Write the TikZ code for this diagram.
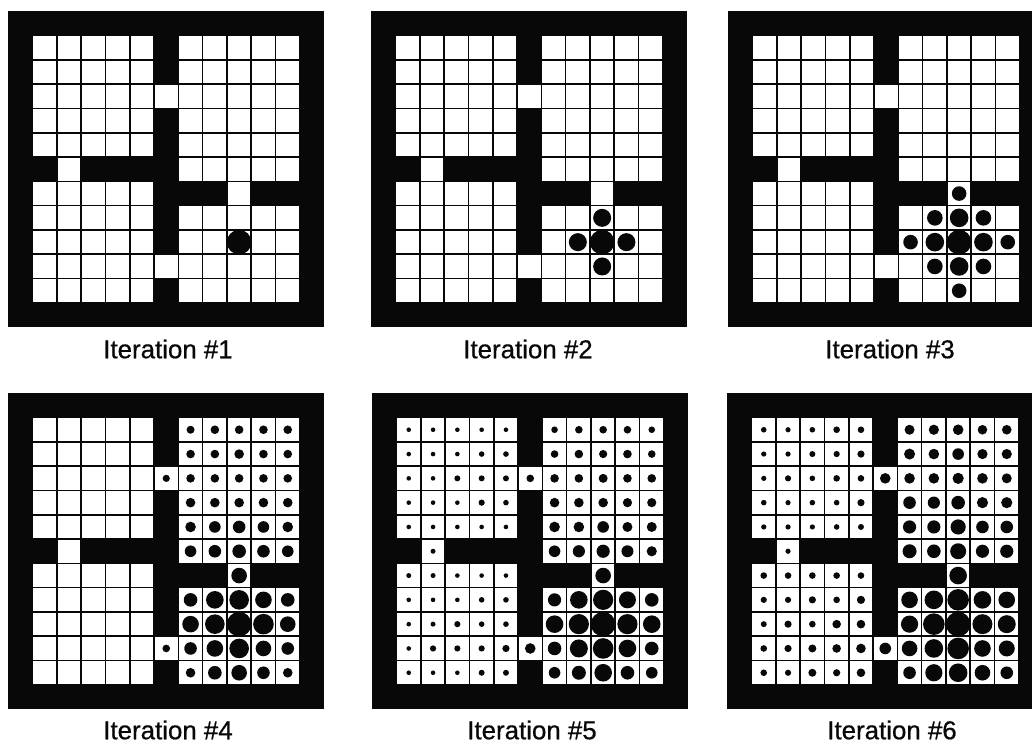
\documentclass[tikz,border=0pt]{standalone}
\usepackage{fontspec}
\setmainfont{Liberation Sans}
\newfontfamily\capfont[RawFeature={embolden=0.6}]{Liberation Sans}
\usepackage{xcolor}
\definecolor{roomWall}{RGB}{8,8,8}
\definecolor{roomCell}{RGB}{255,255,255}

% one panel: #1,#2 top left corner, #3 rows of dot radii (row/{11 values})
\newcommand{\roompanel}[3]{
  \begin{scope}[shift={(#1,#2)}]
    \fill[roomWall] (0,0) rectangle (316,316);
    \foreach \cmin/\cmax/\rmin/\rmax in {1/5/1/5,7/11/1/6,1/5/7/11,7/11/8/11,6/6/3/3,6/6/10/10,2/2/6/6,9/9/7/7}
      \foreach \cl in {\cmin,...,\cmax}
        \foreach \rw in {\rmin,...,\rmax}
          \fill[cell] ({\cl*24.3+1.0},{\rw*24.3+1.0}) rectangle ++(22.7,22.7);
    \foreach \rw/\rowvals in {#3}{
      \foreach \sz [count=\cl] in \rowvals {
        \ifdim\sz pt>0pt
          \fill[blob] ({(\cl+0.5)*24.3+0.3},{(\rw+0.5)*24.3+0.3}) circle (\sz+0.3);
        \fi
      }
    }
  \end{scope}
}

\begin{document}
\begin{tikzpicture}[
    x=0.75pt, y=-0.75pt,
    cell/.style={roomCell},
    blob/.style={roomWall},
    lbl/.style={font=\capfont\fontsize{19.4}{21}\selectfont, text=roomWall, inner sep=0pt}
  ]
  \fill[white] (0,0) rectangle (1032,743);
  \clip (0,0) rectangle (1032,743);

  % top row
  \roompanel{8}{11}{9/{0,0,0,0,0,0,0,0,12,0,0}}
  \roompanel{371}{11}{
    8/{0,0,0,0,0,0,0,0,8.7,0,0},
    9/{0,0,0,0,0,0,0,8.7,12,8.7,0},
    10/{0,0,0,0,0,0,0,0,8.7,0,0}}
  \roompanel{728}{11}{
    7/{0,0,0,0,0,0,0,0,7,0,0},
    8/{0,0,0,0,0,0,0,7.5,9,7.5,0},
    9/{0,0,0,0,0,0,7,9,12,9,7},
    10/{0,0,0,0,0,0,0,7.5,9,7.5,0},
    11/{0,0,0,0,0,0,0,0,7,0,0}}

  % bottom row
  \roompanel{8}{393}{
    1/{0,0,0,0,0,0,3.7,4,4,4,4},
    2/{0,0,0,0,0,0,4,4,4.5,4,4},
    3/{0,0,0,0,0,3.3,4,4,4,4,4},
    4/{0,0,0,0,0,0,4.5,4.5,4.5,4.5,4.5},
    5/{0,0,0,0,0,0,5,5.5,6,5.5,5},
    6/{0,0,0,0,0,0,5.5,6,6.5,6,5.5},
    7/{0,0,0,0,0,0,0,0,7.5,0,0},
    8/{0,0,0,0,0,0,6.5,8.5,9.5,8,6.5},
    9/{0,0,0,0,0,0,8,9.5,12,10,7.5},
    10/{0,0,0,0,0,3.5,6,8,9.5,7.5,6},
    11/{0,0,0,0,0,0,4.5,6.5,7.5,6,4.5}}
  \roompanel{372}{393}{
    1/{2,2,2,2,2,0,3,3.5,3.5,3.5,3},
    2/{2,2,2,2.5,2.5,0,3.5,4,3.8,4,3.5},
    3/{2,2,2.7,2.7,2.7,3.5,4,4,4.2,4,4},
    4/{2,2,2,2.8,2.5,0,4.5,4.5,4.5,4.3,4.3},
    5/{2,2,2,2,2,0,5,5,5.5,4.7,4.7},
    6/{0,2.2,0,0,0,0,5.5,5.8,6.3,5.7,4.8},
    7/{2.2,2.2,2,2,2,0,0,0,7.5,0,0},
    8/{2,2,2,2.5,2.5,0,6.3,8.5,9.8,8.2,6.5},
    9/{2,2.2,2.8,2.5,2.5,0,8.5,9.8,12,9.8,8.5},
    10/{2,2.8,2.8,2.8,3.3,5,6.5,8.7,10,8.5,6.5},
    11/{2,2,2,2.7,2.7,0,5.5,6.7,8.5,6.5,5.5}}
  \roompanel{727}{393}{
    1/{2.5,2.3,2.5,3,3,0,4.7,4.8,5,4.5,4.5},
    2/{2.3,2.3,2.7,2.8,3.3,0,5.2,5,5.5,4.8,4.8},
    3/{2.3,2.8,2.5,3,3,5,5,5,5.3,5,4.7},
    4/{2.5,2.3,2.5,2.5,3.3,0,6,5.8,6.5,5.3,5.3},
    5/{2.3,2.3,2.3,2.5,2.7,0,6.3,6.3,7.3,6,6},
    6/{0,2.3,0,0,0,0,6.7,6.5,7.7,6.3,6.3},
    7/{3,3,3,3,3,0,0,0,8.5,0,0},
    8/{2.8,2.8,3.3,3,3.8,0,8,9,10.5,8.5,8},
    9/{2.7,3.3,3,4,4,0,8.3,10.5,12,9.7,8.7},
    10/{3,3.3,3.7,4,4.5,5.5,7.5,9,10.5,8,7.7},
    11/{3,2.8,3.7,3.3,4,0,6,8.3,9,7.5,6}}

  \node[lbl] (itOne) at (168,349) {Iteration \#1};
  \node[lbl] (itTwo) at (528,349) {Iteration \#2};
  \node[lbl] (itThree) at (890,349) {Iteration \#3};
  \node[lbl] (itFour) at (168,730) {Iteration \#4};
  \node[lbl] (itFive) at (532,730) {Iteration \#5};
  \node[lbl] (itSix) at (892,730) {Iteration \#6};
\end{tikzpicture}
\end{document}
